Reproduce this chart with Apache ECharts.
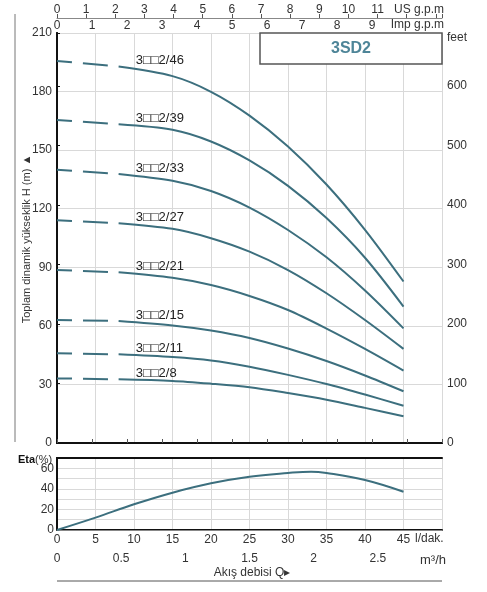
<!DOCTYPE html>
<html>
<head>
<meta charset="utf-8">
<script src="https://cdn.jsdelivr.net/npm/echarts@6/dist/echarts.min.js"></script>
<style>
    html, body { margin: 0; padding: 0; background: #fff; }
    #chart { width: 487px; height: 592px; }
</style>
</head>
<body>
<div id="chart"></div>
<script>
// debi noktalari (l/dak)
var flowDash = [0, 8];
var flowSolid = [8, 15, 20, 25, 30, 35, 40, 45];

// basma yuksekligi (m), her model icin: [q=0, q=8, q=15 .. q=45]
var models = ['3\u25A1\u25A12/46', '3\u25A1\u25A12/39', '3\u25A1\u25A12/33', '3\u25A1\u25A12/27',
              '3\u25A1\u25A12/21', '3\u25A1\u25A12/15', '3\u25A1\u25A12/11', '3\u25A1\u25A12/8'];
var head46 = [195.7, 192.8, 187.9, 179.9, 167.7, 151.9, 132.4, 109.2, 82.7];
var head39 = [165.5, 163.2, 160.4, 154.4, 144.7, 131.7, 115.2, 94.9, 69.9];
var head33 = [139.9, 137.8, 134.3, 129.1, 120.6, 109.1, 95.1, 78.1, 58.7];
var head27 = [114.1, 112.6, 109.7, 104.9, 98.0, 88.6, 76.7, 63.0, 48.2];
var head21 = [88.6, 87.4, 84.6, 80.9, 75.3, 68.1, 58.6, 48.2, 37.1];
var head15 = [63.0, 62.5, 60.2, 57.6, 53.8, 48.4, 42.0, 34.6, 26.5];
var head11 = [46.0, 45.4, 44.0, 42.3, 39.1, 34.9, 30.2, 24.8, 19.1];
var head8  = [33.1, 32.6, 31.8, 30.4, 28.6, 25.6, 22.2, 18.0, 13.7];
var heads = [head46, head39, head33, head27, head21, head15, head11, head8];

// verim egrisi
var etaFlow = [0, 5, 10, 15, 20, 25, 30, 33, 35, 40, 45];
var etaVal  = [0, 12, 25, 36.3, 45.4, 51.8, 55.4, 56.7, 55.4, 48.6, 37.2];

var LINE = '#3c6f7e';
var GRIDC = '#d9d9d9';
var TXT = '#333';
var FONT = '"Liberation Sans", Arial, sans-serif';

var chart = echarts.init(document.getElementById('chart'));

function pairs(xs, ys) {
    return xs.map(function (x, i) { return [x, ys[i]]; });
}

function axisLbl(margin, fmt) {
    var o = { show: true, margin: margin, color: TXT, fontSize: 12, fontFamily: FONT, showMaxLabel: true };
    if (fmt) o.formatter = fmt;
    return o;
}

var series = [];
heads.forEach(function (h, i) {
    series.push({
        type: 'line', xAxisIndex: 0, yAxisIndex: 0,
        data: pairs(flowDash, h.slice(0, 2)),
        showSymbol: false, silent: true,
        lineStyle: { color: LINE, width: 2, type: [25, 11], dashOffset: 10 }
    });
    series.push({
        type: 'line', xAxisIndex: 0, yAxisIndex: 0,
        data: pairs(flowSolid, h.slice(1)),
        smooth: 0.3, showSymbol: false, silent: true,
        lineStyle: { color: LINE, width: 2 },
        markPoint: {
            symbol: 'circle', symbolSize: 0.1, silent: true,
            itemStyle: { color: 'transparent' },
            label: {
                show: true, position: 'right', distance: 0, offset: [17, -6],
                formatter: models[i], color: '#222', fontSize: 13, fontFamily: FONT
            },
            data: [{ coord: [flowSolid[0], h[1]] }]
        }
    });
});
series.push({
    type: 'line', xAxisIndex: 3, yAxisIndex: 2,
    data: pairs(etaFlow, etaVal),
    smooth: 0.4, showSymbol: false, silent: true,
    lineStyle: { color: LINE, width: 2 }
});

var frame = { show: true, lineStyle: { color: '#111', width: 2 } };
var split = { show: true, lineStyle: { color: GRIDC, width: 1 } };

var option = {
    animation: false,
    textStyle: { fontFamily: FONT },
    grid: [
        { left: 57, top: 33, width: 385, height: 410 },
        { left: 57, top: 458, width: 385, height: 72 }
    ],
    xAxis: [
        { gridIndex: 0, type: 'value', position: 'bottom', min: 0, max: 50, interval: 5,
          axisLine: frame, axisTick: { show: false }, axisLabel: { show: false }, splitLine: split },
        { gridIndex: 0, type: 'value', position: 'top', min: 0, max: 50 / 4.546, interval: 1,
          axisLine: frame, axisTick: { show: true, length: 4, lineStyle: { color: '#555' } },
          axisLabel: axisLbl(1, function (v) { return v <= 9 ? v : ''; }),
          splitLine: { show: false } },
        { gridIndex: 0, type: 'value', position: 'top', offset: 15, min: 0, max: 50 / 3.785, interval: 1,
          axisLine: { show: true, lineStyle: { color: '#888', width: 1 } },
          axisTick: { show: true, length: 4, lineStyle: { color: '#555' } },
          axisLabel: axisLbl(2, function (v) { return v <= 11 ? v : ''; }),
          splitLine: { show: false } },
        { gridIndex: 1, type: 'value', position: 'bottom', min: 0, max: 50, interval: 5,
          axisLine: frame, axisTick: { show: false },
          axisLabel: axisLbl(4, function (v) { return v < 50 ? v : ''; }),
          splitLine: split },
        { gridIndex: 1, type: 'value', position: 'bottom', offset: 18, min: 0, max: 3, interval: 0.5,
          axisLine: { show: true, lineStyle: { color: '#888', width: 1 } },
          axisTick: { show: false },
          axisLabel: axisLbl(5, function (v) { return v < 3 ? v : ''; }),
          splitLine: { show: false } },
        { gridIndex: 1, type: 'value', position: 'top', min: 0, max: 50,
          axisLine: frame, axisTick: { show: false }, axisLabel: { show: false }, splitLine: { show: false } }
    ],
    yAxis: [
        { gridIndex: 0, type: 'value', position: 'left', min: 0, max: 210, interval: 30,
          axisLine: frame, axisTick: { show: false }, axisLabel: axisLbl(5), splitLine: split },
        { gridIndex: 0, type: 'value', position: 'right', min: 0, max: 210 * 3.28084, interval: 100,
          axisLine: frame, axisTick: { show: true, length: 3, lineStyle: { color: '#111' } },
          axisLabel: axisLbl(5, function (v) { return v % 100 === 0 ? v : ''; }),
          splitLine: { show: false } },
        { gridIndex: 1, type: 'value', position: 'left', min: 0, max: 70, interval: 10,
          axisLine: frame, axisTick: { show: false },
          axisLabel: axisLbl(3, function (v) { return (v % 20 === 0 && v < 70) ? v : ''; }),
          splitLine: split },
        { gridIndex: 1, type: 'value', position: 'right', min: 0, max: 70, interval: 10,
          axisLine: frame, axisTick: { show: false }, axisLabel: { show: false }, splitLine: { show: false } }
    ],
    graphic: [
        { type: 'rect', z: 100, shape: { x: 260, y: 33, width: 182, height: 31 },
          style: { fill: '#fff', stroke: '#555', lineWidth: 1.5 } },
        { type: 'text', z: 101, x: 351, y: 49,
          style: { text: '3SD2', fill: '#4e8598', font: 'bold 16px ' + FONT, align: 'center', verticalAlign: 'middle' } },
        { type: 'text', x: 444, y: 10,
          style: { text: 'US g.p.m', fill: TXT, font: '12px ' + FONT, align: 'right', verticalAlign: 'middle' } },
        { type: 'text', x: 444, y: 25,
          style: { text: 'Imp g.p.m', fill: TXT, font: '12px ' + FONT, align: 'right', verticalAlign: 'middle' } },
        { type: 'text', x: 447, y: 38,
          style: { text: 'feet', fill: TXT, font: '12px ' + FONT, align: 'left', verticalAlign: 'middle' } },
        { type: 'text', x: 27, y: 239, rotation: Math.PI / 2,
          style: { text: 'Toplam dinamik yükseklik H (m) \u25B2', fill: TXT, font: '11px ' + FONT,
                   align: 'center', verticalAlign: 'middle' } },
        { type: 'text', x: 18, y: 460,
          style: { text: '{b|Eta}{n|(%)}', align: 'left', verticalAlign: 'middle',
                   rich: { b: { font: 'bold 11px ' + FONT, fill: '#111' }, n: { font: '11px ' + FONT, fill: TXT } } } },
        { type: 'text', x: 415, y: 539,
          style: { text: 'l/dak.', fill: TXT, font: '12px ' + FONT, align: 'left', verticalAlign: 'middle' } },
        { type: 'text', x: 420, y: 560,
          style: { text: 'm\u00B3/h', fill: TXT, font: '13px ' + FONT, align: 'left', verticalAlign: 'middle' } },
        { type: 'text', x: 252, y: 573,
          style: { text: 'Akış debisi Q\u25B8', fill: TXT, font: '12px ' + FONT, align: 'center', verticalAlign: 'middle' } },
        { type: 'line', shape: { x1: 15, y1: 14, x2: 15, y2: 442 }, style: { stroke: '#777', lineWidth: 1 } },
        { type: 'line', shape: { x1: 57, y1: 581, x2: 442, y2: 581 }, style: { stroke: '#555', lineWidth: 1 } }
    ],
    series: series
};

chart.setOption(option);
</script>
</body>
</html>
